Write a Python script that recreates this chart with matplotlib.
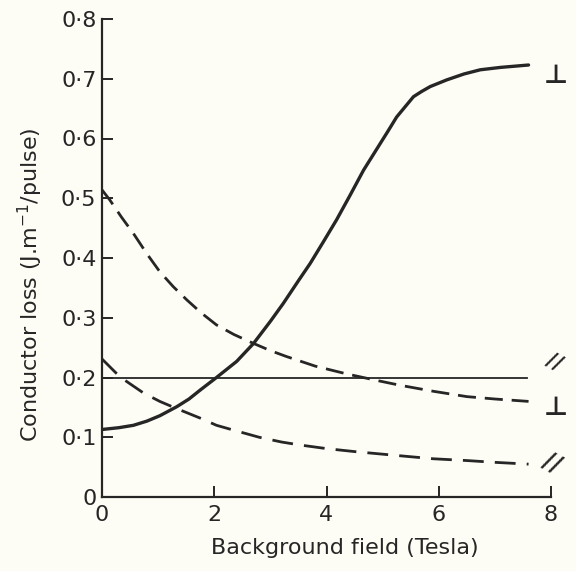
import matplotlib
matplotlib.use("Agg")
import matplotlib.pyplot as plt

# Data
solid_x = [0, 0.3, 0.56, 0.8, 1.03, 1.33, 1.55, 1.75, 2.04, 2.4, 2.7, 3.0, 3.23, 3.5, 3.71,
           3.95, 4.18, 4.42, 4.66, 4.96, 5.1, 5.25, 5.4, 5.55, 5.7, 5.85, 6.14, 6.45, 6.74,
           7.1, 7.6]
solid_y = [0.113, 0.116, 0.120, 0.127, 0.136, 0.151, 0.164, 0.179, 0.200, 0.227, 0.257,
           0.294, 0.324, 0.362, 0.391, 0.428, 0.464, 0.505, 0.547, 0.592, 0.613, 0.636,
           0.653, 0.670, 0.679, 0.687, 0.698, 0.708, 0.715, 0.719, 0.723]

upper_dash_x = [0, 0.14, 0.35, 0.56, 0.8, 1.03, 1.27, 1.51, 1.77, 2.04, 2.35, 2.7, 3.0,
                3.29, 3.8, 4.36, 4.9, 5.31, 5.9, 6.5, 7.0, 7.6]
upper_dash_y = [0.514, 0.497, 0.468, 0.441, 0.407, 0.377, 0.352, 0.330, 0.308, 0.288,
                0.272, 0.257, 0.245, 0.235, 0.219, 0.206, 0.195, 0.187, 0.177, 0.168,
                0.164, 0.160]

lower_dash_x = [0, 0.32, 0.74, 1.03, 1.33, 1.75, 2.04, 2.34, 2.8, 3.2, 3.53, 4.0, 4.5,
                5.31, 5.9, 6.5, 7.0, 7.6]
lower_dash_y = [0.231, 0.201, 0.174, 0.160, 0.148, 0.132, 0.120, 0.112, 0.100, 0.092,
                0.087, 0.081, 0.076, 0.069, 0.064, 0.061, 0.058, 0.055]

flat_x = [0, 7.58]
flat_y = [0.2, 0.2]

x_ticks = [0, 2, 4, 6, 8]
x_ticklabels = ["0", "2", "4", "6", "8"]
y_ticks = [0, 0.1, 0.2, 0.3, 0.4, 0.5, 0.6, 0.7, 0.8]
y_ticklabels = ["0", "0·1", "0·2", "0·3", "0·4", "0·5", "0·6", "0·7", "0·8"]

bg = "#fefdf5"
ink = "#262626"

fig = plt.figure(figsize=(5.76, 5.71), dpi=100, facecolor=bg)
ax = fig.add_axes([102/576, 1 - 497/571, (551 - 102)/576, (497 - 19)/571])
ax.set_facecolor(bg)

ax.plot(solid_x, solid_y, color=ink, lw=2.4, solid_capstyle="round", solid_joinstyle="round")
ax.plot(flat_x, flat_y, color=ink, lw=1.3)
ax.plot(upper_dash_x, upper_dash_y, color=ink, lw=2.0, dashes=(6.5, 3.2))
ax.plot(lower_dash_x, lower_dash_y, color=ink, lw=2.0, dashes=(7.5, 4.0))

ax.set_xlim(0, 8)
ax.set_ylim(0, 0.8)
for s in ["top", "right"]:
    ax.spines[s].set_visible(False)
for s in ["left", "bottom"]:
    ax.spines[s].set_linewidth(1.6)
    ax.spines[s].set_color(ink)

ax.set_xticks(x_ticks)
ax.set_xticklabels(x_ticklabels)
ax.set_yticks(y_ticks)
ax.set_yticklabels(y_ticklabels)
ax.tick_params(axis="both", direction="in", length=8, width=1.4, color=ink,
               labelsize=16, labelcolor=ink)
ax.tick_params(axis="y", pad=4)
ax.tick_params(axis="x", pad=6)

# Right-hand markers
ax.text(8.09, 0.705, "⊥", fontsize=19, fontweight="bold", ha="center", va="center",
        color=ink, clip_on=False)
ax.text(8.09, 0.149, "⊥", fontsize=19, fontweight="bold", ha="center", va="center",
        color=ink, clip_on=False)
ax.text(8.06, 0.226, "//", fontsize=15, fontweight="bold", ha="center", va="center",
        color=ink, rotation=-28, clip_on=False)
ax.text(8.02, 0.058, "//", fontsize=17, fontweight="bold", ha="center", va="center",
        color=ink, rotation=-28, clip_on=False)

fig.text(345/576, 1 - 548/571, "Background field (Tesla)", fontsize=16,
         ha="center", va="center", color=ink)
fig.text(30/576, 1 - 285/571, "Conductor loss (J.m$^{-1}$/pulse)", fontsize=16,
         ha="center", va="center", rotation=90, color=ink)

fig.savefig("out.png", dpi=100, facecolor=bg)
